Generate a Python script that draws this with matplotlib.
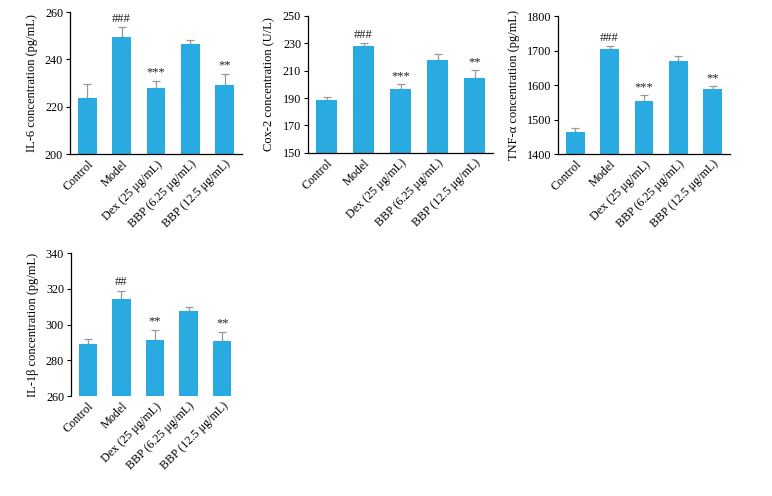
import matplotlib
matplotlib.use("Agg")
import matplotlib.pyplot as plt

plt.rcParams['font.family'] = ['Liberation Serif', 'DejaVu Serif']

categories = ["Control", "Model", "Dex (25 \u03bcg/mL)", "BBP (6.25 \u03bcg/mL)", "BBP (12.5 \u03bcg/mL)"]

il6_vals = [223.5, 249.5, 228.0, 246.5, 229.0]
il6_err = [6.0, 4.0, 3.0, 1.5, 5.0]
il6_marks = ["", "###", "***", "", "**"]

cox2_vals = [188.5, 228.0, 196.5, 217.5, 204.5]
cox2_err = [2.0, 2.0, 3.5, 5.0, 6.0]
cox2_marks = ["", "###", "***", "", "**"]

tnf_vals = [1465, 1703, 1553, 1670, 1589]
tnf_err = [9, 10, 17, 14, 8]
tnf_marks = ["", "###", "***", "", "**"]

il1b_vals = [289.0, 314.0, 291.5, 307.5, 290.5]
il1b_err = [3.0, 5.0, 5.5, 2.5, 5.5]
il1b_marks = ["", "##", "**", "", "**"]

panels = [
    dict(vals=il6_vals, err=il6_err, marks=il6_marks, ylim=(200, 260), ticks=[200, 220, 240, 260],
         ylabel="IL-6 concentration (pg/mL)", pos=[0.0907, 0.6895, 0.2228, 0.2863], bottom=True),
    dict(vals=cox2_vals, err=cox2_err, marks=cox2_marks, ylim=(150, 250), ticks=[150, 170, 190, 210, 230, 250],
         ylabel="Cox-2 concentration (U/L)", pos=[0.399, 0.692, 0.2396, 0.276], bottom=True),
    dict(vals=tnf_vals, err=tnf_err, marks=tnf_marks, ylim=(1400, 1800), ticks=[1400, 1500, 1600, 1700, 1800],
         ylabel="TNF-\u03b1 concentration (pg/mL)", pos=[0.7228, 0.6895, 0.2228, 0.2782], bottom=True),
    dict(vals=il1b_vals, err=il1b_err, marks=il1b_marks, ylim=(260, 340), ticks=[260, 280, 300, 320, 340],
         ylabel="IL-1\u03b2 concentration (pg/mL)", pos=[0.092, 0.2016, 0.2176, 0.2883], bottom=False),
]

bar_color = "#29ABE2"
err_color = "#999999"

fig = plt.figure(figsize=(7.72, 4.96), dpi=100)
for p in panels:
    ax = fig.add_axes(p["pos"])
    x = list(range(len(categories)))
    ax.bar(x, p["vals"], width=0.55, color=bar_color, zorder=2)
    ax.errorbar(x, p["vals"], yerr=[[0]*len(x), p["err"]], fmt='none', ecolor=err_color,
                elinewidth=0.9, capsize=3, capthick=0.9, zorder=1)
    rng = p["ylim"][1] - p["ylim"][0]
    for xi, v, e, m in zip(x, p["vals"], p["err"], p["marks"]):
        if m:
            ax.text(xi, v + e + rng * 0.015, m, ha='center', va='bottom', fontsize=9, color='#222222')
    ax.set_ylim(*p["ylim"])
    ax.set_xlim(-0.5, 4.5)
    ax.set_yticks(p["ticks"])
    ax.set_xticks(x)
    ax.set_xticklabels(categories, rotation=45, ha='right', rotation_mode='anchor', fontsize=8.7)
    ax.tick_params(axis='x', length=0, pad=3)
    ax.tick_params(axis='y', length=3, width=0.8, labelsize=8.7, pad=2)
    ax.set_ylabel(p["ylabel"], fontsize=9, labelpad=5)
    ax.spines['top'].set_visible(False)
    ax.spines['right'].set_visible(False)
    ax.spines['left'].set_linewidth(0.9)
    ax.spines['bottom'].set_linewidth(0.9)
    if not p["bottom"]:
        ax.spines['bottom'].set_visible(False)

fig.savefig("out.png", dpi=100)
